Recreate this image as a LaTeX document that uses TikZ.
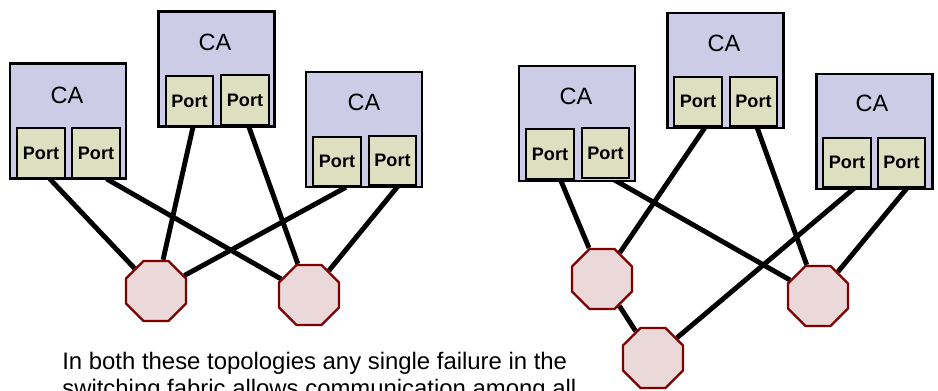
\documentclass[tikz,border=0pt]{standalone}
\usepackage{fontspec}
\setmainfont{Liberation Sans}
\usetikzlibrary{shapes.geometric,backgrounds}

\definecolor{cafill}{RGB}{204,204,230}
\definecolor{portfill}{RGB}{222,222,192}
\definecolor{swfill}{RGB}{235,216,216}
\definecolor{swline}{RGB}{128,0,0}

\begin{document}
\begin{tikzpicture}[x=0.02cm,y=-0.02cm,
    cabox/.style={draw=black,line width=1.3pt,fill=cafill,minimum width=2.32cm,
      minimum height=2.3cm,inner sep=0pt},
    catext/.style={font=\fontsize{13.4}{16}\selectfont},
    portbox/.style={draw=black,line width=1.3pt,fill=portfill,minimum width=0.95cm,
      minimum height=0.99cm,inner sep=0pt,font=\fontsize{10.3}{12}\selectfont\bfseries},
    switch/.style={regular polygon,regular polygon sides=8,draw=swline,line width=1.3pt,
      fill=swfill,minimum size=1.3cm,inner sep=0pt},
    link/.style={line width=2.8pt}]
  \useasboundingbox (0,0) rectangle (938,391);

  % left fabric
  \node[cabox] (ca1) at (68,121) {};
  \node[catext] (ca1t) at (67,95) {CA};
  \node[portbox] (p11) at (41,153) {Port};
  \node[portbox] (p12) at (96,153) {Port};

  \node[cabox] (ca2) at (216.5,69) {};
  \node[catext] (ca2t) at (215,42) {CA};
  \node[portbox] (p21) at (189.5,101) {Port};
  \node[portbox] (p22) at (245,100) {Port};

  \node[cabox] (ca3) at (364,129.5) {};
  \node[catext] (ca3t) at (364,102) {CA};
  \node[portbox] (p31) at (337,161.5) {Port};
  \node[portbox] (p32) at (392.5,160.5) {Port};

  \node[switch] (s1) at (156,291) {};
  \node[switch] (s2) at (309,295) {};

  % right fabric
  \node[cabox] (ca4) at (577,123.5) {};
  \node[catext] (ca4t) at (576,96) {CA};
  \node[portbox] (p41) at (550,154) {Port};
  \node[portbox] (p42) at (605.5,153) {Port};

  \node[cabox] (ca5) at (725.5,70.5) {};
  \node[catext] (ca5t) at (724,43) {CA};
  \node[portbox] (p51) at (698,101.5) {Port};
  \node[portbox] (p52) at (753.5,101.5) {Port};

  \node[cabox] (ca6) at (874.5,131.5) {};
  \node[catext] (ca6t) at (872,103) {CA};
  \node[portbox] (p61) at (847,162.5) {Port};
  \node[portbox] (p62) at (901.5,162.5) {Port};

  \node[switch] (s3) at (602,279) {};
  \node[switch] (s4) at (653,358) {};
  \node[switch] (s5) at (818,296) {};

  \begin{scope}[on background layer]
    \draw[link] ([xshift=5]p11.south) -- (s1);
    \draw[link] ([xshift=6]p12.south) -- (s2);
    \draw[link] ([xshift=2]p21.south) -- (s1);
    \draw[link] ([xshift=2]p22.south) -- (s2);
    \draw[link] ([xshift=5]p31.south) -- (s1);
    \draw[link] ([xshift=3]p32.south) -- (s2);
    \draw[link] ([xshift=6]p41.south) -- (s3);
    \draw[link] ([xshift=4]p42.south) -- (s5);
    \draw[link] ([xshift=4]p51.south) -- (s3);
    \draw[link] ([xshift=2]p52.south) -- (s5);
    \draw[link] ([xshift=4]p61.south) -- (s4);
    \draw[link] ([xshift=3]p62.south) -- (s5);
    \draw[link] (s3) -- (s4);
  \end{scope}

  \node[anchor=base west,inner sep=0pt,font=\fontsize{13.6}{16}\selectfont] (note1) at (62,370)
    {In both these topologies any single failure in the};
  \node[anchor=base west,inner sep=0pt,font=\fontsize{13.6}{16}\selectfont] (note2) at (62,397)
    {switching fabric allows communication among all};
\end{tikzpicture}
\end{document}
